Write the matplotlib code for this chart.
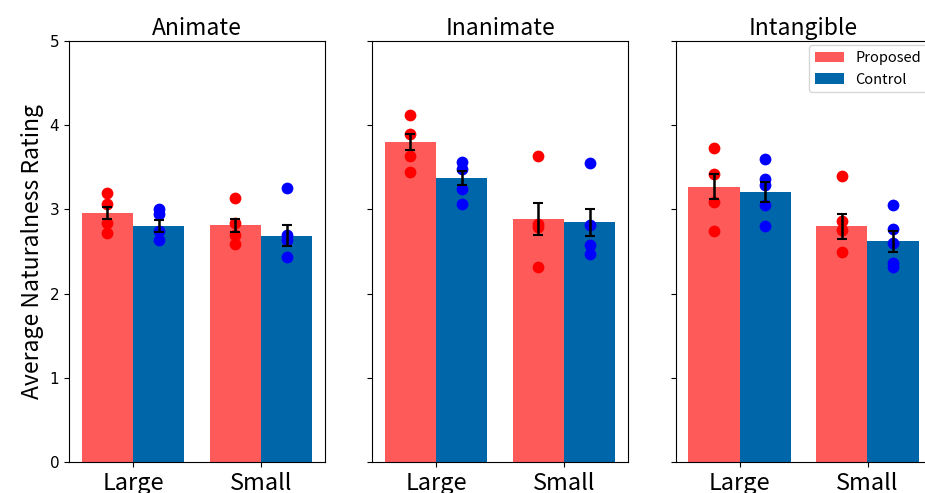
import matplotlib
matplotlib.use("Agg")
import matplotlib.pyplot as plt
import numpy as np

panels = ["Animate", "Inanimate", "Intangible"]
sizes = ["Large", "Small"]
series = ["Proposed", "Control"]

# bar heights [panel][size]
proposed_mean = [[2.96, 2.81], [3.80, 2.89], [3.27, 2.80]]
control_mean = [[2.80, 2.69], [3.37, 2.85], [3.21, 2.62]]
# error half-widths
proposed_err = [[0.07, 0.08], [0.10, 0.19], [0.15, 0.15]]
control_err = [[0.07, 0.13], [0.083, 0.16], [0.12, 0.12]]
# individual points
proposed_pts = [
    [[3.20, 3.06, 2.84, 2.72], [3.14, 2.84, 2.70, 2.59]],
    [[4.12, 3.90, 3.63, 3.45], [3.64, 2.83, 2.79, 2.31]],
    [[3.73, 3.42, 3.09, 2.74], [3.40, 2.86, 2.76, 2.49]],
]
control_pts = [
    [[3.00, 2.95, 2.74, 2.64], [3.26, 2.70, 2.64, 2.44]],
    [[3.56, 3.48, 3.24, 3.06], [3.55, 2.82, 2.58, 2.47]],
    [[3.60, 3.36, 3.29, 3.05, 2.80], [3.05, 2.77, 2.60, 2.36, 2.31]],
]

JP = ["Noto Sans CJK JP", "DejaVu Sans"]
bar_colors = ["#FF5A5A", "#0066AA"]
dot_colors = ["#FF0000", "#0000FF"]

fig = plt.figure(figsize=(9.25, 4.93), dpi=100)
W, H = 925, 493
lefts = [69, 372, 675.5]
axw = 256
bottom = 31
axh = 421

x = np.arange(len(sizes))
bw = 0.4
axes = []
for i, name in enumerate(panels):
    ax = fig.add_axes([lefts[i] / W, bottom / H, axw / W, axh / H])
    axes.append(ax)
    means = [proposed_mean[i], control_mean[i]]
    errs = [proposed_err[i], control_err[i]]
    pts = [proposed_pts[i], control_pts[i]]
    for s in range(2):
        off = (s - 0.5) * bw
        ax.bar(x + off, means[s], width=bw, color=bar_colors[s],
               label=series[s], zorder=1)
        for k in range(len(sizes)):
            vals = pts[s][k]
            ax.scatter([x[k] + off] * len(vals), vals, s=72, color=dot_colors[s],
                       zorder=2, linewidths=0)
        ax.errorbar(x + off, means[s], yerr=errs[s], fmt="none", ecolor="black",
                    elinewidth=1.8, capsize=3.5, capthick=1.5, zorder=3)
    ax.set_xlim(-0.5, 1.5)
    ax.set_ylim(0, 5)
    ax.set_xticks(x)
    ax.set_xticklabels(sizes, fontsize=17, family=JP)
    ax.set_yticks([0, 1, 2, 3, 4, 5])
    ax.tick_params(axis="y", labelsize=11)
    if i > 0:
        ax.set_yticklabels([])
    ax.set_title(name, fontsize=16.5, family=JP, pad=4)

axes[0].set_ylabel("Average Naturalness Rating", fontsize=16.5, family=JP)
axes[2].legend(loc="upper right", prop={"family": JP, "size": 10.5},
               borderaxespad=0.3)

fig.savefig("out.png", dpi=100)
